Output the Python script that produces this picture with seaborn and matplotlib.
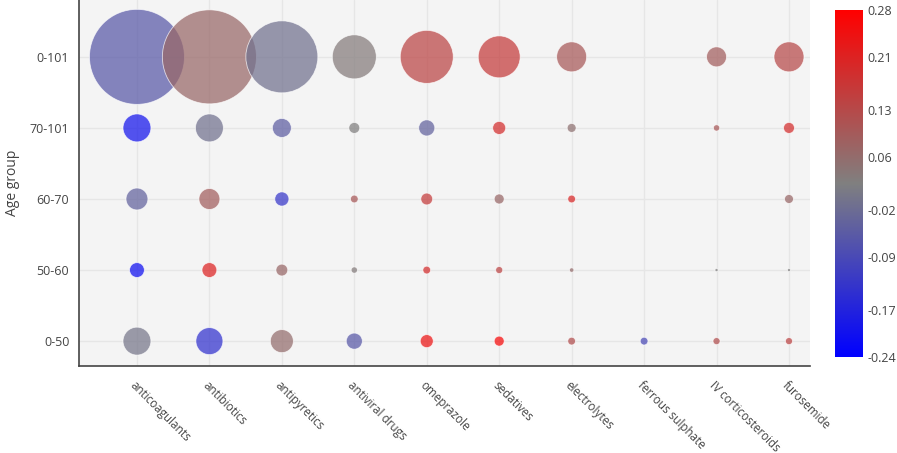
import numpy as np
import pandas as pd
import matplotlib
matplotlib.use("Agg")
import matplotlib.pyplot as plt
import seaborn as sns
from matplotlib.colors import LinearSegmentedColormap, Normalize

# categorias
drugs = ["anticoagulants", "antibiotics", "antipyretics", "antiviral drugs", "omeprazole",
         "sedatives", "electrolytes", "ferrous sulphate", "IV corticosteroids", "furosemide"]
age_groups = ["0-50", "50-60", "60-70", "70-101", "0-101"]

# numero de pacientes (area del circulo) por grupo de edad, None = sin dato
n_0_50 = [78, 73, 53, 26, 17, 10, 6, 6, 5, 5]
n_50_60 = [22, 22, 14, 4, 6, 5, 2, None, 1, 1]
n_60_70 = [48, 44, 20, 6, 14, 10, 6, None, None, 8]
n_70_101 = [78, 78, 36, 12, 26, 17, 8, None, 4, 12]
n_0_101 = [902, 884, 518, 194, 281, 176, 90, None, 40, 90]

# coeficiente (color)
c_0_50 = [0.00, -0.14, 0.06, -0.06, 0.24, 0.26, 0.12, -0.09, 0.12, 0.14]
c_50_60 = [-0.21, 0.21, 0.07, 0.03, 0.19, 0.14, 0.06, None, 0.02, 0.02]
c_60_70 = [-0.04, 0.09, -0.13, 0.10, 0.16, 0.07, 0.20, None, None, 0.07]
c_70_101 = [-0.20, -0.01, -0.05, 0.02, -0.04, 0.19, 0.05, None, 0.10, 0.19]
c_0_101 = [-0.06, 0.07, -0.01, 0.03, 0.14, 0.16, 0.10, None, 0.09, 0.13]

cbar_ticks = [-0.24, -0.17, -0.09, -0.02, 0.06, 0.13, 0.21, 0.28]
vmin, vmax = -0.24, 0.28

filas = []
for grupo, ns, cs in zip(age_groups,
                         [n_0_50, n_50_60, n_60_70, n_70_101, n_0_101],
                         [c_0_50, c_50_60, c_60_70, c_70_101, c_0_101]):
    for i, d in enumerate(drugs):
        if ns[i] is not None:
            filas.append({"drug": d, "xi": i, "age": grupo,
                          "yi": age_groups.index(grupo), "n": ns[i], "coef": cs[i]})
df = pd.DataFrame(filas)

cmap = LinearSegmentedColormap.from_list("bgr", [(0, 0, 1), (0.5, 0.5, 0.5), (1, 0, 0)])

sns.set_style("white")
plt.rcParams["font.family"] = ["Open Sans", "DejaVu Sans"]

fig = plt.figure(figsize=(8.97, 4.53), dpi=100)
ax = fig.add_axes([79 / 897, 87 / 453, 731 / 897, 366 / 453])
ax.set_facecolor("#f4f4f4")

sns.scatterplot(data=df, x="xi", y="yi", size="n", sizes=(0, 4680), size_norm=(0, 902),
                hue="coef", palette=cmap, hue_norm=(vmin, vmax), alpha=0.72,
                edgecolor="white", linewidth=0.6, legend=False, ax=ax, zorder=3)

ax.set_xlim(-0.8, 9.29)
ax.set_ylim(-0.35, 4.8)
ax.set_xticks(range(len(drugs)))
ax.set_xticklabels(drugs, rotation=-45, ha="left", va="top", rotation_mode="anchor",
                   color="#444444", fontsize=8.4)
ax.set_yticks(range(len(age_groups)))
ax.set_yticklabels(age_groups, color="#444444", fontsize=9)
ax.grid(True, color="#e6e6e6", linewidth=1, zorder=0)
ax.set_axisbelow(True)
for lado in ["top", "right"]:
    ax.spines[lado].set_visible(False)
for lado in ["left", "bottom"]:
    ax.spines[lado].set_color("#444444")
    ax.spines[lado].set_linewidth(1.2)
ax.tick_params(axis="both", direction="out", length=4, width=1, color="#444444", pad=3)
ax.tick_params(axis="x", pad=5)
ax.set_xlabel("")
ax.set_ylabel("Age group", fontsize=10, color="#444444", labelpad=7)

# barra de color
cax = fig.add_axes([835 / 897, 96 / 453, 28 / 897, 347 / 453])
sm = plt.cm.ScalarMappable(norm=Normalize(vmin, vmax), cmap=cmap)
cb = fig.colorbar(sm, cax=cax)
cb.outline.set_visible(False)
cb.set_ticks(cbar_ticks)
cb.set_ticklabels([f"{t:.2f}" for t in cbar_ticks])
cax.tick_params(length=0, labelsize=9, labelcolor="#444444", pad=3)

fig.savefig("out.png", dpi=100)
